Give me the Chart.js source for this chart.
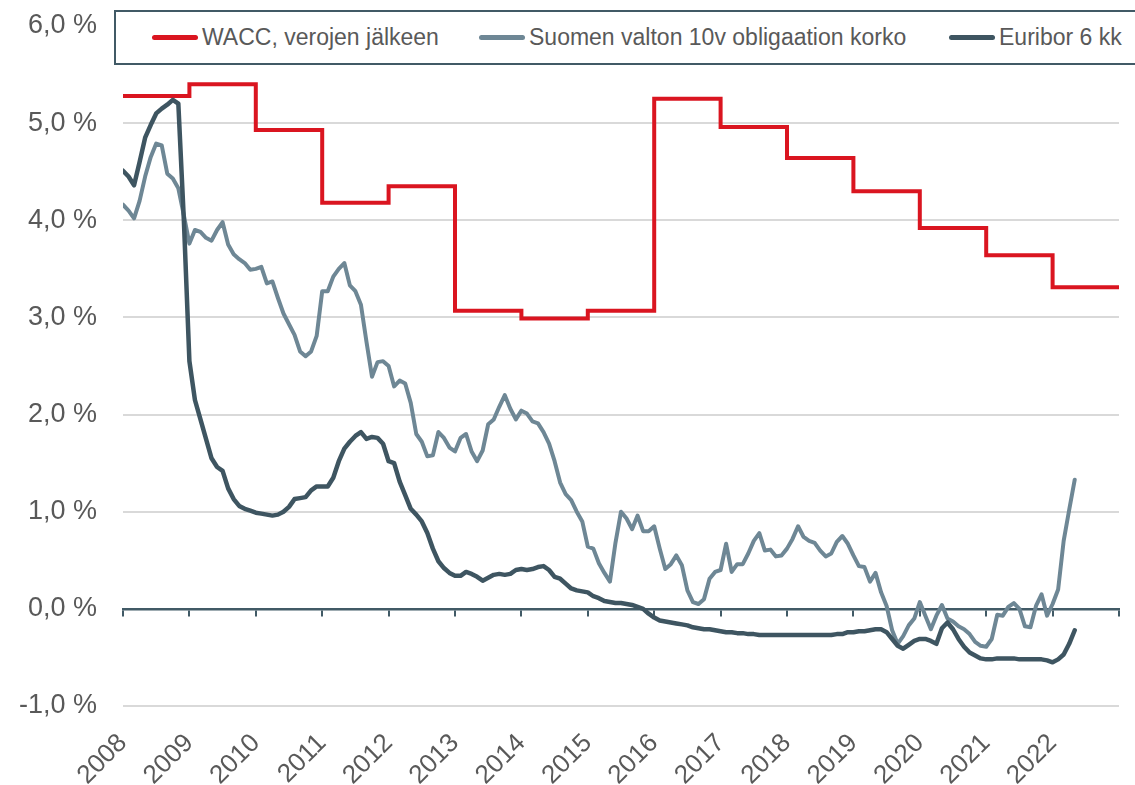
<!DOCTYPE html>
<html>
<head>
<meta charset="utf-8">
<script src="https://cdn.jsdelivr.net/npm/chart.js@4"></script>
<style>
  html, body { margin: 0; padding: 0; background: #fff; overflow: hidden; }
  #wrap { position: relative; width: 1135px; height: 785px; }
  #legend {
    position: absolute; left: 114px; top: 10px; width: 1040px; height: 51px;
    border: 2px solid #415a66; background: #fff;
    font-family: "Liberation Sans", Arial, sans-serif; font-size: 23px; color: #595959;
  }
  .item { position: absolute; top: 0; height: 51px; display: flex; align-items: center; white-space: nowrap; }
  .swatch { display: inline-block; width: 46px; height: 5px; border-radius: 3px; margin-right: 4px; }
</style>
</head>
<body>
<div id="wrap">
  <canvas id="chart" width="1135" height="785"></canvas>
  <div id="legend"></div>
</div>
<script>
// WACC (vuosittainen askel), viimeinen arvo toistetaan vuoden 2023 alkuun
var waccYears = [2008, 2009, 2010, 2011, 2012, 2013, 2014, 2015, 2016, 2017, 2018, 2019, 2020, 2021, 2022, 2023];
var wacc = [5.28, 5.40, 4.93, 4.18, 4.35, 3.07, 2.99, 3.07, 5.25, 4.96, 4.64, 4.30, 3.92, 3.64, 3.31, 3.31];

// kuukausisarjat tammikuusta 2008 alkaen
var startYear = 2008;
var bond10y = [
  4.16, 4.10, 4.02, 4.20, 4.45, 4.65, 4.79, 4.77, 4.48, 4.43, 4.33, 4.05,
  3.76, 3.90, 3.88, 3.82, 3.79, 3.90, 3.98, 3.75, 3.65, 3.60, 3.56, 3.49,
  3.50, 3.52, 3.35, 3.37, 3.20, 3.04, 2.93, 2.82, 2.65, 2.60, 2.65, 2.81,
  3.27, 3.27, 3.42, 3.50, 3.56, 3.33, 3.27, 3.13, 2.75, 2.39, 2.54, 2.55,
  2.50, 2.29, 2.35, 2.32, 2.12, 1.80, 1.72, 1.57, 1.58, 1.82, 1.76, 1.66,
  1.62, 1.76, 1.80, 1.62, 1.52, 1.63, 1.90, 1.95, 2.08, 2.20, 2.06, 1.95,
  2.04, 2.01, 1.93, 1.91, 1.82, 1.70, 1.52, 1.30, 1.18, 1.12, 1.00, 0.90,
  0.64, 0.62, 0.47, 0.37, 0.28, 0.68, 1.00, 0.93, 0.82, 0.96, 0.80, 0.80,
  0.85, 0.62, 0.41, 0.46, 0.55, 0.45, 0.19, 0.07, 0.05, 0.10, 0.31, 0.38,
  0.40, 0.67, 0.38, 0.46, 0.46, 0.57, 0.70, 0.78, 0.60, 0.61, 0.54, 0.55,
  0.62, 0.72, 0.85, 0.74, 0.70, 0.68, 0.60, 0.54, 0.57, 0.69, 0.75, 0.67,
  0.55, 0.44, 0.43, 0.28, 0.37, 0.17, 0.03, -0.22, -0.36, -0.28, -0.17, -0.10,
  0.07, -0.07, -0.21, -0.07, 0.04, -0.10, -0.13, -0.18, -0.21, -0.26, -0.34, -0.38,
  -0.39, -0.31, -0.06, -0.07, 0.02, 0.06, 0.00, -0.18, -0.19, 0.03, 0.15, -0.07,
  0.05, 0.20, 0.70, 1.02, 1.33
];
var euribor6m = [
  4.51, 4.45, 4.36, 4.60, 4.85, 4.98, 5.10, 5.15, 5.19, 5.24, 5.20, 4.00,
  2.55, 2.15, 1.95, 1.75, 1.55, 1.46, 1.42, 1.24, 1.13, 1.06, 1.03, 1.01,
  0.99, 0.98, 0.97, 0.96, 0.97, 1.00, 1.05, 1.13, 1.14, 1.15, 1.22, 1.26,
  1.26, 1.26, 1.35, 1.52, 1.65, 1.72, 1.78, 1.82, 1.75, 1.77, 1.76, 1.70,
  1.52, 1.50, 1.31, 1.17, 1.03, 0.97, 0.90, 0.78, 0.62, 0.49, 0.42, 0.37,
  0.34, 0.34, 0.38, 0.36, 0.33, 0.29, 0.32, 0.35, 0.36, 0.35, 0.36, 0.40,
  0.41, 0.40, 0.41, 0.43, 0.44, 0.40, 0.33, 0.31, 0.26, 0.21, 0.19, 0.18,
  0.17, 0.13, 0.11, 0.08, 0.07, 0.06, 0.06, 0.05, 0.04, 0.02, 0.00, -0.05,
  -0.09, -0.12, -0.13, -0.14, -0.15, -0.16, -0.17, -0.19, -0.20, -0.21, -0.21, -0.22,
  -0.23, -0.24, -0.24, -0.25, -0.25, -0.26, -0.26, -0.27, -0.27, -0.27, -0.27, -0.27,
  -0.27, -0.27, -0.27, -0.27, -0.27, -0.27, -0.27, -0.27, -0.27, -0.26, -0.26, -0.24,
  -0.24, -0.23, -0.23, -0.22, -0.21, -0.21, -0.24, -0.31, -0.38, -0.41, -0.37, -0.33,
  -0.31, -0.31, -0.33, -0.36, -0.20, -0.14, -0.21, -0.31, -0.39, -0.45, -0.48, -0.51,
  -0.52, -0.52, -0.51, -0.51, -0.51, -0.51, -0.52, -0.52, -0.52, -0.52, -0.52, -0.53,
  -0.55, -0.52, -0.47, -0.36, -0.22
];

var yTicks = [-1, 0, 1, 2, 3, 4, 5, 6];
var xMin = 2008, xMax = 2023;

var seriesNames = ['WACC, verojen jälkeen', 'Suomen valton 10v obligaation korko', 'Euribor 6 kk'];
var seriesColors = ['#da1520', '#6e8795', '#3e5561'];

var textColor = '#595959';
var axisColor = '#415a66';

function monthly(values) {
  return values.map(function(v, i) { return { x: startYear + i / 12, y: v }; });
}

var waccData = waccYears.map(function(y, i) { return { x: y, y: wacc[i] }; });

// HTML-selite laatikossa
var legendEl = document.getElementById('legend');
var legendLeft = [36, 363, 833];
seriesNames.forEach(function(name, i) {
  var item = document.createElement('div');
  item.className = 'item';
  item.style.left = legendLeft[i] + 'px';
  var sw = document.createElement('span');
  sw.className = 'swatch';
  sw.style.background = seriesColors[i];
  item.appendChild(sw);
  var t = document.createElement('span');
  t.textContent = name;
  item.appendChild(t);
  legendEl.appendChild(item);
});

var ctx = document.getElementById('chart').getContext('2d');
new Chart(ctx, {
  type: 'line',
  data: {
    datasets: [
      {
        label: seriesNames[0],
        data: waccData,
        borderColor: seriesColors[0],
        borderWidth: 4,
        stepped: 'before',
        pointRadius: 0,
        order: 3
      },
      {
        label: seriesNames[1],
        data: monthly(bond10y),
        borderColor: seriesColors[1],
        borderWidth: 4,
        borderJoinStyle: 'round',
        borderCapStyle: 'round',
        pointRadius: 0,
        tension: 0,
        order: 2
      },
      {
        label: seriesNames[2],
        data: monthly(euribor6m),
        borderColor: seriesColors[2],
        borderWidth: 4.5,
        borderJoinStyle: 'round',
        borderCapStyle: 'round',
        pointRadius: 0,
        tension: 0,
        order: 1
      }
    ]
  },
  options: {
    responsive: false,
    animation: false,
    devicePixelRatio: 1,
    layout: { padding: { top: 26, right: 16, left: 0, bottom: 0 } },
    scales: {
      x: {
        type: 'linear',
        position: 'bottom',
        min: xMin,
        max: xMax,
        afterFit: function(scale) { scale.height = 79; },
        ticks: {
          stepSize: 1,
          autoSkip: false,
          minRotation: 45,
          maxRotation: 45,
          padding: 14,
          color: textColor,
          font: { family: 'Liberation Sans, Arial, sans-serif', size: 26 },
          callback: function(v) { return v < xMax ? String(v) : null; }
        },
        grid: { display: false },
        border: { display: false }
      },
      x2: {
        type: 'linear',
        position: { y: 0 },
        min: xMin,
        max: xMax,
        ticks: { display: false, stepSize: 1 },
        grid: {
          drawOnChartArea: false,
          drawTicks: true,
          tickLength: 6,
          color: axisColor,
          lineWidth: 2
        },
        border: { display: true, color: axisColor, width: 2.5 }
      },
      y: {
        min: yTicks[0],
        max: yTicks[yTicks.length - 1],
        afterFit: function(scale) {
          scale.width = 123;
          // tekstin ylitys ei saa siirtää piirtoaluetta
          scale.paddingTop = 0;
          scale.paddingBottom = 0;
        },
        ticks: {
          stepSize: 1,
          padding: 26,
          color: textColor,
          font: { family: 'Liberation Sans, Arial, sans-serif', size: 27 },
          callback: function(v) { return v.toFixed(1).replace('.', ',') + ' %'; }
        },
        grid: {
          drawTicks: false,
          lineWidth: 2,
          color: function(c) { return c.tick && c.tick.value === 0 ? 'rgba(0,0,0,0)' : '#d9d9d9'; }
        },
        border: { display: false }
      }
    },
    plugins: {
      legend: { display: false },
      tooltip: { enabled: false }
    }
  }
});
</script>
</body>
</html>
